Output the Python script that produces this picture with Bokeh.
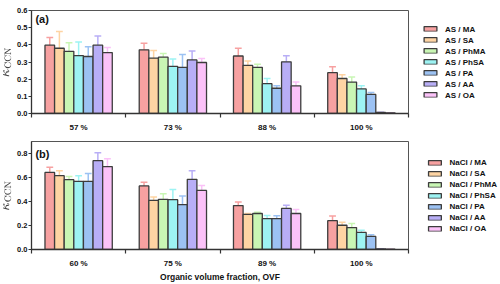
from bokeh.plotting import figure
from bokeh.models import (ColumnDataSource, FixedTicker, Legend, LegendItem, Label,
                          Range1d, PrintfTickFormatter)
from bokeh.layouts import column
from bokeh.embed import file_html
from bokeh.resources import INLINE

# ---------------- data ----------------
species = ["MA", "SA", "PhMA", "PhSA", "PA", "AA", "OA"]
colors = ["#f7a1a1", "#fed4a3", "#c9f6b4", "#9df3f3", "#9cc2f3", "#b8aef6", "#fbc2f8"]

groups_a = ["57 %", "73 %", "88 %", "100 %"]
kappa_a = [
    [0.398, 0.380, 0.362, 0.337, 0.332, 0.398, 0.355],
    [0.371, 0.323, 0.328, 0.274, 0.269, 0.312, 0.297],
    [0.335, 0.280, 0.269, 0.174, 0.147, 0.301, 0.161],
    [0.238, 0.204, 0.183, 0.143, 0.111, 0.007, 0.004],
]
err_a = [
    [0.044, 0.098, 0.050, 0.079, 0.057, 0.054, 0.030],
    [0.038, 0.044, 0.021, 0.043, 0.075, 0.052, 0.024],
    [0.045, 0.026, 0.018, 0.030, 0.014, 0.036, 0.022],
    [0.034, 0.022, 0.030, 0.018, 0.011, 0.000, 0.000],
]

groups_b = ["60 %", "75 %", "89 %", "100 %"]
kappa_b = [
    [0.642, 0.615, 0.582, 0.568, 0.568, 0.740, 0.691],
    [0.530, 0.410, 0.418, 0.415, 0.374, 0.585, 0.492],
    [0.366, 0.292, 0.300, 0.257, 0.257, 0.342, 0.300],
    [0.240, 0.202, 0.183, 0.142, 0.109, 0.006, 0.003],
]
err_b = [
    [0.044, 0.041, 0.027, 0.047, 0.066, 0.066, 0.066],
    [0.030, 0.027, 0.046, 0.085, 0.071, 0.071, 0.041],
    [0.030, 0.008, 0.011, 0.027, 0.024, 0.027, 0.033],
    [0.039, 0.025, 0.033, 0.019, 0.014, 0.000, 0.000],
]

yticks_a = [0.0, 0.1, 0.2, 0.3, 0.4, 0.5, 0.6]
yticks_b = [0.0, 0.2, 0.4, 0.6, 0.8]

FONT = "Liberation Sans"
BAR_W = 0.102
EDGE = "#3c3c3c"


def make_panel(groups, kappa, err, prefix, ymax, yticks, tag, tag_y, height,
               top, bottom, leg_loc, leg_margin, xtitle=None):
    p = figure(width=500, height=height, x_range=Range1d(0, 4),
               y_range=Range1d(0, ymax), output_backend="svg",
               toolbar_location=None, min_border_left=31, min_border_right=92,
               min_border_top=top, min_border_bottom=bottom)
    p.xgrid.visible = False
    p.ygrid.visible = False
    p.outline_line_color = "#555555"
    p.outline_line_width = 1

    items = []
    for i, sp in enumerate(species):
        xs = [g + 0.5 + (i - 3) * BAR_W for g in range(len(groups))]
        vals = [row[i] for row in kappa]
        tops = [row[i] + e[i] for row, e in zip(kappa, err)]
        src = ColumnDataSource(dict(x=xs, v=vals, t=tops,
                                    x0=[x - 0.036 for x in xs],
                                    x1=[x + 0.036 for x in xs]))
        p.segment(x0="x", y0="v", x1="x", y1="t", source=src,
                  line_color=colors[i], line_width=1.5)
        p.segment(x0="x0", y0="t", x1="x1", y1="t", source=src,
                  line_color=colors[i], line_width=1.5)
        r = p.vbar(x="x", top="v", width=BAR_W, bottom=0, source=src,
                   fill_color=colors[i], line_color=EDGE, line_width=1.3)
        items.append(LegendItem(label=f"{prefix} / {sp}", renderers=[r]))

    legend = Legend(items=items, location=leg_loc, glyph_width=16,
                    glyph_height=6, label_height=11, spacing=0,
                    label_standoff=7, margin=leg_margin, padding=0,
                    border_line_color=None, background_fill_alpha=0,
                    label_text_font=FONT, label_text_font_style="bold",
                    label_text_font_size="8px", label_text_color="#111111")
    p.add_layout(legend, "right")

    ax = p.xaxis[0]
    ax.ticker = FixedTicker(ticks=[0.5, 1.5, 2.5, 3.5], minor_ticks=[0, 1, 2, 3, 4])
    ax.major_label_overrides = {0.5: groups[0], 1.5: groups[1],
                                2.5: groups[2], 3.5: groups[3]}
    ax.major_tick_line_color = None
    ax.minor_tick_in = 0
    ax.minor_tick_out = 4
    ax.minor_tick_line_color = "#333333"
    ax.minor_tick_line_width = 1.2
    ax.axis_line_color = "#333333"
    ax.axis_line_width = 1.3
    ax.major_label_text_font = FONT
    ax.major_label_text_font_style = "bold"
    ax.major_label_text_font_size = "8px"
    ax.major_label_text_color = "#111111"
    ax.major_label_standoff = 3
    if xtitle:
        ax.axis_label = xtitle
        ax.axis_label_text_font = FONT
        ax.axis_label_text_font_style = "bold"
        ax.axis_label_text_font_size = "8.5px"
        ax.axis_label_text_color = "#111111"
        ax.axis_label_standoff = 1

    ay = p.yaxis[0]
    ay.ticker = FixedTicker(ticks=yticks, minor_ticks=[])
    ay.formatter = PrintfTickFormatter(format="%.1f")
    ay.major_tick_in = 0
    ay.major_tick_out = 3
    ay.major_tick_line_color = "#333333"
    ay.axis_line_color = "#333333"
    ay.axis_line_width = 1.3
    ay.major_label_text_font = FONT
    ay.major_label_text_font_style = "bold"
    ay.major_label_text_font_size = "7.5px"
    ay.major_label_text_color = "#111111"
    ay.major_label_standoff = 1
    ay.axis_label = r"$$\kappa_{\mathrm{CCN}}$$"
    ay.axis_label_text_font_size = "10px"
    ay.axis_label_standoff = 0

    p.add_layout(Label(x=0.042, y=tag_y, text=tag, text_font=FONT,
                       text_font_style="bold", text_font_size="11px",
                       text_baseline="top", text_color="#111111"))
    return p


pa = make_panel(groups_a, kappa_a, err_a, "AS", 0.6, yticks_a, "(a)", 0.583,
                134, 10, 15, "left", 14)
pb = make_panel(groups_b, kappa_b, err_b, "NaCl", 0.9, yticks_b, "(b)", 0.844,
                150, 7, 31, "right", 3, xtitle="Organic volume fraction, OVF")

layout = column(pa, pb, spacing=0)
open("out.html", "w").write(file_html(layout, INLINE))
